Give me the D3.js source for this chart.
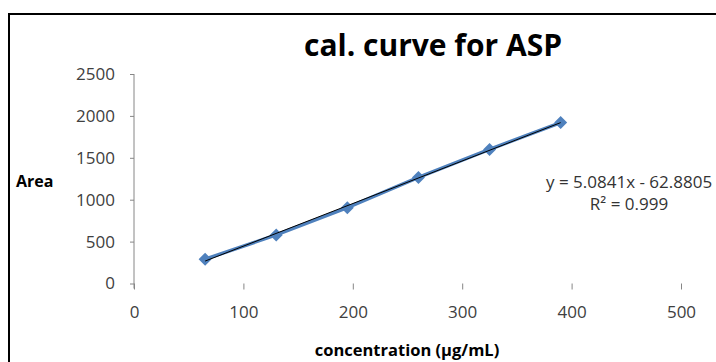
<!DOCTYPE html>
<html>
<head>
<meta charset="utf-8">
<script src="https://cdn.jsdelivr.net/npm/d3@7"></script>
<style>
  body { margin: 0; background: #fff; }
  text { font-family: "Open Sans", "Liberation Sans", sans-serif; }
</style>
</head>
<body>
<svg id="chart" width="716" height="362"></svg>
<script>
// concentration (µg/mL) and peak area
var conc = [65, 130, 195, 260, 325, 390];
var area = [290, 580, 905, 1265, 1600, 1920];
var xTicks = [0, 100, 200, 300, 400, 500];
var yTicks = [0, 500, 1000, 1500, 2000, 2500];
var slope = 5.0841, intercept = -62.8805;

var svg = d3.select('#chart');

// outer frame, runs off the right and bottom edges
svg.append('rect')
  .attr('x', 9).attr('y', 14)
  .attr('width', 800).attr('height', 400)
  .attr('fill', 'none')
  .attr('stroke', '#000')
  .attr('stroke-width', 2);

var x = d3.scaleLinear().domain([0, 500]).range([134, 681]);
var y = d3.scaleLinear().domain([0, 2500]).range([283.5, 74]);

// y axis
var yAxis = svg.append('g')
  .attr('transform', 'translate(134,0)')
  .call(d3.axisLeft(y).tickValues(yTicks).tickFormat(d3.format('d'))
    .tickSize(4).tickSizeOuter(0).tickPadding(15));
yAxis.select('.domain').attr('stroke', '#868686').attr('d', 'M0,' + y(2500) + 'V' + (y(0) + 5));
yAxis.selectAll('.tick line').attr('stroke', '#868686');
yAxis.selectAll('.tick text')
  .attr('fill', '#404040').style('font-size', '17px');

// x axis (ticks only, no baseline)
var xAxis = svg.append('g')
  .attr('transform', 'translate(0,' + y(0) + ')')
  .call(d3.axisBottom(x).tickValues(xTicks).tickFormat(d3.format('d'))
    .tickSize(6).tickSizeOuter(0).tickPadding(16));
xAxis.select('.domain').remove();
xAxis.selectAll('.tick line').attr('stroke', '#868686');
xAxis.selectAll('.tick text')
  .attr('fill', '#404040').style('font-size', '17px');

// series line
var pts = conc.map(function(c, i) { return [c, area[i]]; });
svg.append('path')
  .datum(pts)
  .attr('fill', 'none')
  .attr('stroke', '#4F81BD')
  .attr('stroke-width', 3.5)
  .attr('d', d3.line().x(function(d) { return x(d[0]); }).y(function(d) { return y(d[1]); }));

// markers
svg.selectAll('.pt')
  .data(pts)
  .enter()
  .append('path')
  .attr('class', 'pt')
  .attr('transform', function(d) { return 'translate(' + x(d[0]) + ',' + y(d[1]) + ')'; })
  .attr('d', 'M0,-6.5L6.5,0L0,6.5L-6.5,0Z')
  .attr('fill', '#4F81BD');

// linear trendline
var xs = d3.extent(conc);
svg.append('line')
  .attr('x1', x(xs[0])).attr('y1', y(slope * xs[0] + intercept))
  .attr('x2', x(xs[1])).attr('y2', y(slope * xs[1] + intercept))
  .attr('stroke', '#000')
  .attr('stroke-width', 1);

// texts
svg.append('text')
  .attr('x', 433).attr('y', 56)
  .attr('text-anchor', 'middle')
  .style('font-size', '30px').style('font-weight', 'bold')
  .text('cal. curve for ASP');

svg.append('text')
  .attr('x', 16).attr('y', 187)
  .style('font-size', '16px').style('font-weight', 'bold')
  .text('Area');

svg.append('text')
  .attr('x', 407).attr('y', 356)
  .attr('text-anchor', 'middle')
  .style('font-size', '16.5px').style('font-weight', 'bold')
  .text('concentration (µg/mL)');

svg.append('text')
  .attr('x', 546).attr('y', 188)
  .attr('fill', '#333')
  .style('font-size', '17px')
  .text('y = 5.0841x - 62.8805');

svg.append('text')
  .attr('x', 629).attr('y', 210)
  .attr('text-anchor', 'middle')
  .attr('fill', '#333')
  .style('font-size', '17px')
  .text('R² = 0.999');
</script>
</body>
</html>
